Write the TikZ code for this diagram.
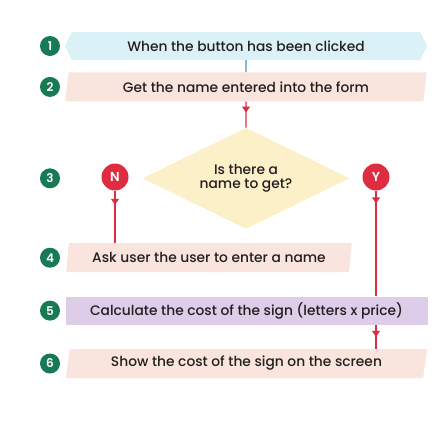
\documentclass[tikz,border=0pt]{standalone}
\usepackage{fontspec}
\setmainfont{Poppins Medium}[BoldFont=Poppins SemiBold]
\usetikzlibrary{arrows.meta,positioning,shapes.geometric,shapes.symbols,decorations.markings}
\definecolor{stepgreen}{RGB}{24,122,84}
\definecolor{flowred}{RGB}{222,45,65}
\definecolor{linkblue}{RGB}{60,150,210}
\definecolor{paleblue}{RGB}{218,241,248}
\definecolor{palepink}{RGB}{250,228,222}
\definecolor{palelilac}{RGB}{222,205,232}
\definecolor{paleyellow}{RGB}{252,240,200}
\definecolor{inkgray}{RGB}{35,31,32}

\begin{document}
\begin{tikzpicture}[
    x=1pt, y=-1pt,
    node distance=12pt,
    >=Triangle,
    b/.style={
        minimum width=362pt,
        minimum height=29pt,
        inner sep=0pt,
        align=center,
        font=\fontsize{13.8}{15}\selectfont,
        text=inkgray
    },
    slab/.style={
        b,
        trapezium,
        trapezium left angle=78,
        trapezium right angle=102,
        trapezium stretches=true,
        fill=palepink
    },
    num/.style={
        circle,
        fill=stepgreen,
        text=white,
        inner sep=0pt,
        minimum size=20pt,
        font=\fontsize{12}{12}\selectfont\bfseries
    },
    choice/.style={
        circle,
        fill=flowred,
        text=white,
        inner sep=0pt,
        minimum size=27pt,
        font=\fontsize{13}{13}\selectfont\bfseries
    },
    midarrow/.style={
        flowred,
        line width=1.3pt,
        postaction={decorate},
        decoration={markings,
            mark=at position #1 with {\arrow{Triangle[width=8pt,length=6pt]}}}
    }
]

\useasboundingbox (0,0) rectangle (442,429);
\coordinate (col) at (50,0);

\node[
    b,
    signal,
    signal to=west and east,
    signal pointer angle=127,
    minimum height=28pt,
    fill=paleblue
] (click) at (246,46) {When the button has been clicked};

\node[
    slab,
    below=12pt of click
] (getname) {Get the name entered into the form};

\node[
    diamond,
    aspect=2,
    below=26pt of getname,
    minimum width=207pt,
    minimum height=101pt,
    inner sep=0pt,
    align=center,
    font=\fontsize{13.8}{14.5}\selectfont,
    text=inkgray,
    fill=paleyellow
] (query) {Is there a\\name to get?};

\node[
    slab,
    minimum width=286pt,
    below=14pt of query,
    xshift=-37pt
] (askuser) {Ask user the user to enter a name};

\node[
    b,
    minimum height=28pt,
    below=24pt of askuser,
    xshift=37.5pt,
    fill=palelilac
] (cost) {Calculate the cost of the sign (letters x price)};

\node[
    slab,
    below=24pt of cost
] (show) {Show the cost of the sign on the screen};

% yes / no markers
\node[choice] (no) at (115,177) {N};
\node[choice] (yes) at (376,177) {Y};

% step numbers
\node[num] (step1) at (col |- click) {1};
\node[num] (step2) at (col |- getname) {2};
\node[num] (step3) at (col |- query) {3};
\node[num] (step4) at (col |- askuser) {4};
\node[num] (step5) at (col |- cost) {5};
\node[num] (step6) at (col |- show) {6};

\draw[linkblue,line width=1.3pt] (click)--(getname);
\draw[midarrow=0.42] (getname)--(query);
\draw[midarrow=0.27] (no)--(no |- askuser.north);
\draw[midarrow=0.12] (yes)--(yes |- cost.north);
\draw[midarrow=0.5] (cost.south -| yes)--(show.north -| yes);

\end{tikzpicture}
\end{document}
